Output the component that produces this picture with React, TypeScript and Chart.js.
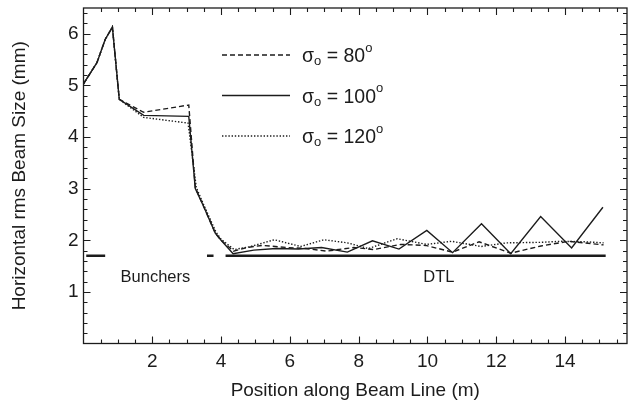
import React, { useEffect, useRef } from "react";
import { Chart, registerables } from "chart.js";

Chart.register(...registerables);

// ---- Data ----
const sigma80X = [0, 0.39, 0.63, 0.84, 1.04, 1.75, 3.06, 3.25, 3.49, 3.83, 4.0, 4.36, 4.75, 5.19, 5.92, 6.45, 7.07, 7.86, 8.44, 9.22, 9.95, 10.73, 11.5, 12.42, 13.3, 14.1, 15.12];
const sigma80Y = [5.03, 5.44, 5.89, 6.13, 4.73, 4.48, 4.62, 3.02, 2.66, 2.14, 2.0, 1.79, 1.86, 1.9, 1.86, 1.84, 1.79, 1.86, 1.82, 1.92, 1.9, 1.77, 1.97, 1.75, 1.89, 1.98, 1.91];

const sigma100X = [0, 0.39, 0.63, 0.84, 1.04, 1.75, 3.06, 3.25, 3.49, 3.83, 4.0, 4.35, 4.95, 5.6, 6.25, 6.92, 7.67, 8.4, 9.17, 9.98, 10.73, 11.57, 12.42, 13.29, 14.19, 15.1];
const sigma100Y = [5.03, 5.44, 5.89, 6.13, 4.73, 4.42, 4.4, 3.0, 2.66, 2.14, 2.0, 1.74, 1.81, 1.84, 1.83, 1.86, 1.77, 1.99, 1.83, 2.19, 1.76, 2.32, 1.74, 2.46, 1.85, 2.64];

const sigma120X = [0, 0.39, 0.63, 0.84, 1.04, 1.75, 3.04, 3.28, 3.5, 3.85, 4.0, 4.38, 4.8, 5.55, 6.31, 6.99, 7.67, 8.28, 9.12, 9.98, 10.7, 11.56, 12.3, 13.27, 13.9, 14.6, 15.12];
const sigma120Y = [5.03, 5.44, 5.89, 6.13, 4.73, 4.38, 4.27, 3.02, 2.68, 2.16, 2.02, 1.82, 1.87, 2.01, 1.88, 2.01, 1.95, 1.84, 2.03, 1.92, 1.98, 1.88, 1.95, 1.96, 1.98, 1.97, 1.95];

// Beam-line section bars (start, end) at a common height
const sectionStarts = [0.08, 3.59, 4.13];
const sectionEnds = [0.63, 3.78, 15.18];
const sectionLevel = 1.7;

const regionLabels = ["Bunchers", "DTL"];
const regionLabelX = [2.09, 10.33];
const regionLabelY = 1.28;

const seriesNames = ["80", "100", "120"];

const xTickValues = [2, 4, 6, 8, 10, 12, 14];
const yTickValues = [1, 2, 3, 4, 5, 6];

const FONT = "'Liberation Sans', Arial, Helvetica, sans-serif";
const INK = "#1c1c1c";

const zip = (xs: number[], ys: number[]) => xs.map((x, i) => ({ x, y: ys[i] }));

const dashStyles: number[][] = [[5, 3], [], [1.4, 1.8]];

const framePlugin = {
  id: "frameTicks",
  afterDatasetsDraw(chart: any) {
    const { ctx, chartArea, scales } = chart;
    const { left, right, top, bottom } = chartArea;
    const xs = scales.x;
    const ys = scales.y;
    ctx.save();
    ctx.strokeStyle = INK;
    ctx.lineWidth = 1.3;
    ctx.setLineDash([]);
    ctx.strokeRect(left, top, right - left, bottom - top);
    ctx.lineWidth = 1.1;
    ctx.beginPath();
    // x ticks every 0.5, major every 2
    for (let i = 1; i * 0.5 < xs.max; i++) {
      const v = i * 0.5;
      const px = Math.round(xs.getPixelForValue(v)) + 0.5;
      const len = i % 4 === 0 ? 7 : 4;
      ctx.moveTo(px, bottom);
      ctx.lineTo(px, bottom - len);
      ctx.moveTo(px, top);
      ctx.lineTo(px, top + len);
    }
    // y ticks every 0.2, major every 1
    for (let i = 1; i * 0.2 < ys.max - 1e-6; i++) {
      const v = i * 0.2;
      const py = Math.round(ys.getPixelForValue(v)) + 0.5;
      const len = i % 5 === 0 ? 7 : 4;
      ctx.moveTo(left, py);
      ctx.lineTo(left + len, py);
      ctx.moveTo(right, py);
      ctx.lineTo(right - len, py);
    }
    ctx.stroke();

    // region labels
    ctx.fillStyle = INK;
    ctx.font = `16.5px ${FONT}`;
    ctx.textAlign = "center";
    ctx.textBaseline = "middle";
    regionLabels.forEach((t, i) => {
      ctx.fillText(t, xs.getPixelForValue(regionLabelX[i]), ys.getPixelForValue(regionLabelY));
    });

    // legend
    const lineX0 = 222;
    const lineX1 = 290;
    const rowY = [55, 95.5, 136];
    const textX = 302;
    seriesNames.forEach((name, i) => {
      const y = rowY[i];
      ctx.strokeStyle = INK;
      ctx.lineWidth = 1.5;
      ctx.setLineDash(dashStyles[i]);
      ctx.beginPath();
      ctx.moveTo(lineX0, y);
      ctx.lineTo(lineX1, y);
      ctx.stroke();
      ctx.setLineDash([]);
      const base = y + 7;
      ctx.textAlign = "left";
      ctx.textBaseline = "alphabetic";
      let x = textX;
      ctx.font = `19.5px ${FONT}`;
      ctx.fillText("σ", x, base);
      x += ctx.measureText("σ").width;
      ctx.font = `13px ${FONT}`;
      ctx.fillText("o", x, base + 3);
      x += ctx.measureText("o").width;
      ctx.font = `19.5px ${FONT}`;
      const mid = " = " + name;
      ctx.fillText(mid, x, base);
      x += ctx.measureText(mid).width;
      ctx.font = `13px ${FONT}`;
      ctx.fillText("o", x, base - 10.5);
    });
    ctx.restore();
  },
};

export default function App() {
  const ref = useRef<HTMLCanvasElement | null>(null);

  useEffect(() => {
    if (!ref.current) return;
    const lineDs = (label: string, xs: number[], ys: number[], dash: number[]) => ({
      label,
      data: zip(xs, ys),
      borderColor: INK,
      borderWidth: 1.4,
      borderDash: dash,
      pointRadius: 0,
      tension: 0,
      fill: false,
    });
    const sectionDs = sectionStarts.map((s, i) => ({
      label: "section" + i,
      data: [
        { x: s, y: sectionLevel },
        { x: sectionEnds[i], y: sectionLevel },
      ],
      borderColor: INK,
      borderWidth: 2.6,
      pointRadius: 0,
      fill: false,
    }));

    const chart = new Chart(ref.current, {
      type: "line",
      data: {
        datasets: [
          lineDs("σo = 80°", sigma80X, sigma80Y, dashStyles[0]),
          lineDs("σo = 100°", sigma100X, sigma100Y, dashStyles[1]),
          lineDs("σo = 120°", sigma120X, sigma120Y, dashStyles[2]),
          ...sectionDs,
        ] as any,
      },
      options: {
        responsive: false,
        animation: false,
        devicePixelRatio: 1,
        layout: { padding: { top: 8, right: 2, left: 0, bottom: 0 } },
        plugins: { legend: { display: false }, tooltip: { enabled: false } },
        scales: {
          x: {
            type: "linear",
            min: 0,
            max: 15.8,
            afterFit: (s: any) => {
              s.height = 64.5;
              s.paddingLeft = 0;
              s.paddingRight = 0;
            },
            afterBuildTicks: (s: any) => {
              s.ticks = xTickValues.map((v) => ({ value: v }));
            },
            grid: { display: false, drawTicks: false },
            border: { display: false },
            ticks: {
              padding: 7,
              color: INK,
              font: { family: FONT, size: 19 },
              maxRotation: 0,
              autoSkip: false,
            },
            title: {
              display: true,
              text: "Position along Beam Line (m)",
              color: INK,
              font: { family: FONT, size: 19 },
              padding: { top: 0, bottom: 5.5 },
            },
          },
          y: {
            type: "linear",
            min: 0,
            max: 6.5,
            afterFit: (s: any) => {
              s.width = 83.5;
              s.paddingTop = 0;
              s.paddingBottom = 0;
            },
            afterBuildTicks: (s: any) => {
              s.ticks = yTickValues.map((v) => ({ value: v }));
            },
            grid: { display: false, drawTicks: false },
            border: { display: false },
            ticks: {
              padding: 5,
              color: INK,
              font: { family: FONT, size: 19 },
              autoSkip: false,
            },
            title: {
              display: true,
              text: "Horizontal rms Beam Size (mm)",
              color: INK,
              font: { family: FONT, size: 19 },
              padding: { top: 8, bottom: 0 },
            },
          },
        },
      } as any,
      plugins: [framePlugin],
    });
    return () => chart.destroy();
  }, []);

  return (
    <canvas
      ref={ref}
      width={629}
      height={408}
      style={{ position: "fixed", left: 0, top: 0, width: 629, height: 408, display: "block", background: "#fff" }}
    />
  );
}
